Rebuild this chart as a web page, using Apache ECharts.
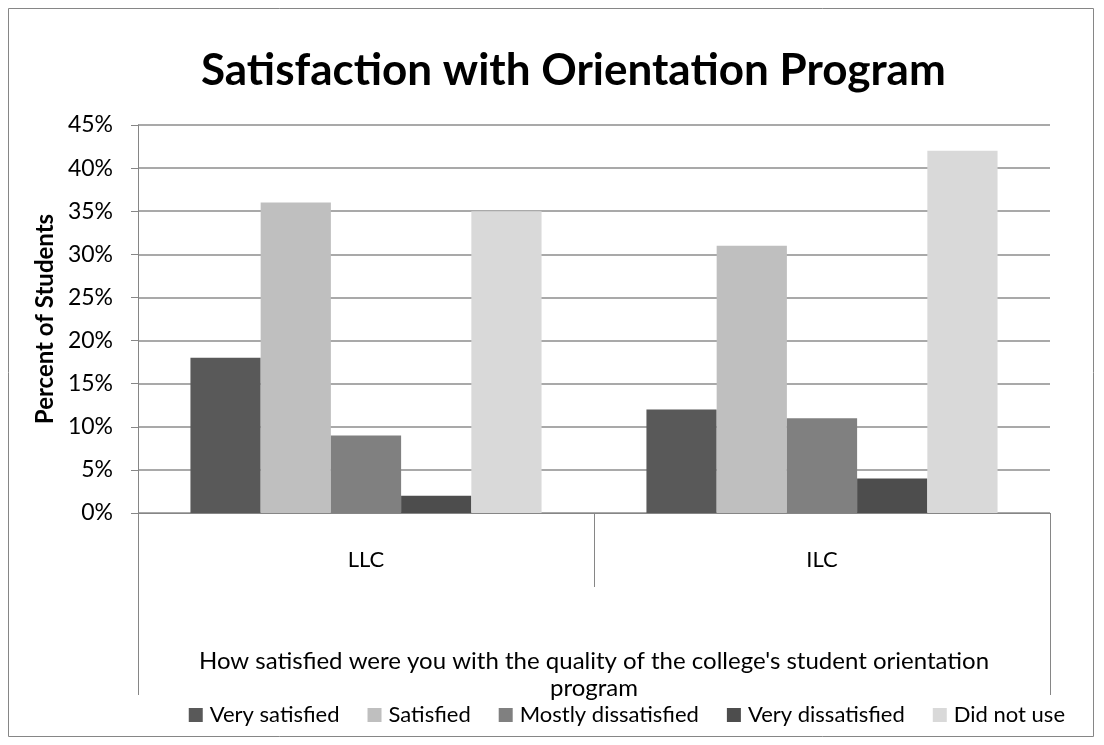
<!DOCTYPE html>
<html><head><meta charset="utf-8">
<script src="https://cdn.jsdelivr.net/npm/echarts@6/dist/echarts.min.js"></script>
<style>html,body{margin:0;padding:0;background:#fff}#c{width:1104px;height:745px}</style>
</head><body><div id="c"></div>
<script>
const titleText = 'Satisfaction with Orientation Program';
const yAxisName = 'Percent of Students';
const categories = ['LLC', 'ILC'];
const outerCategory = ["How satisfied were you with the quality of the college's student orientation\nprogram"];
const seriesNames = ['Very satisfied', 'Satisfied', 'Mostly dissatisfied', 'Very dissatisfied', 'Did not use'];
const verySatisfied = [18, 12];
const satisfied = [36, 31];
const mostlyDissatisfied = [9, 11];
const veryDissatisfied = [2, 4];
const didNotUse = [35, 42];
const yTicks = [0, 5, 10, 15, 20, 25, 30, 35, 40, 45];
const colors = ['#595959', '#bfbfbf', '#808080', '#4d4d4d', '#d9d9d9'];
const values = [verySatisfied, satisfied, mostlyDissatisfied, veryDissatisfied, didNotUse];

const FONT = 'Lato';
const chart = echarts.init(document.getElementById('c'), null, {renderer: 'canvas'});
chart.setOption({
  animation: false,
  backgroundColor: '#fff',
  title: {
    text: titleText, left: 196, top: 44,
    textStyle: {fontFamily: FONT, fontWeight: 'bold', fontSize: 44, color: '#000'}
  },
  graphic: [{
    type: 'rect', shape: {x: 8.5, y: 8.5, width: 1085, height: 728},
    style: {fill: 'none', stroke: '#868686', lineWidth: 1}, silent: true, z: -1
  }],
  legend: {
    top: 699, right: 34, itemWidth: 14, itemHeight: 14, itemGap: 28,
    icon: 'rect', data: seriesNames,
    textStyle: {fontFamily: FONT, fontSize: 22, color: '#000', padding: [0, 0, 0, 2]}
  },
  grid: {left: 138, right: 54, top: 125, bottom: 232, containLabel: false},
  xAxis: [{
    type: 'category', data: categories, position: 'bottom',
    axisLine: {show: true, lineStyle: {color: '#868686', width: 1}},
    axisTick: {show: true, length: 74, interval: 0, lineStyle: {color: '#868686'}},
    axisLabel: {fontFamily: FONT, fontSize: 22, color: '#000', margin: 36}
  }, {
    type: 'category', data: outerCategory, position: 'bottom',
    axisLine: {show: false},
    axisTick: {show: true, length: 182, interval: 0, lineStyle: {color: '#868686'}},
    axisLabel: {fontFamily: FONT, fontSize: 24, color: '#000', margin: 135, lineHeight: 27}
  }],
  yAxis: {
    type: 'value', min: 0, max: 45, interval: 5,
    name: yAxisName, nameLocation: 'middle', nameGap: 80, nameRotate: 90,
    nameTextStyle: {fontFamily: FONT, fontWeight: 'bold', fontSize: 24, color: '#000'},
    axisLine: {show: true, lineStyle: {color: '#868686'}},
    axisTick: {show: true, length: 7, lineStyle: {color: '#868686'}},
    axisLabel: {fontFamily: FONT, fontSize: 23, color: '#000', margin: 25,
      formatter: v => yTicks.includes(v) ? v + '%' : ''},
    splitLine: {show: true, lineStyle: {color: '#8c8c8c', width: 1.5}}
  },
  series: seriesNames.map((n, i) => ({
    name: n, type: 'bar', data: values[i], xAxisIndex: 0,
    barGap: '0%', barCategoryGap: '23%',
    itemStyle: {color: colors[i]}
  }))
});
</script></body></html>
